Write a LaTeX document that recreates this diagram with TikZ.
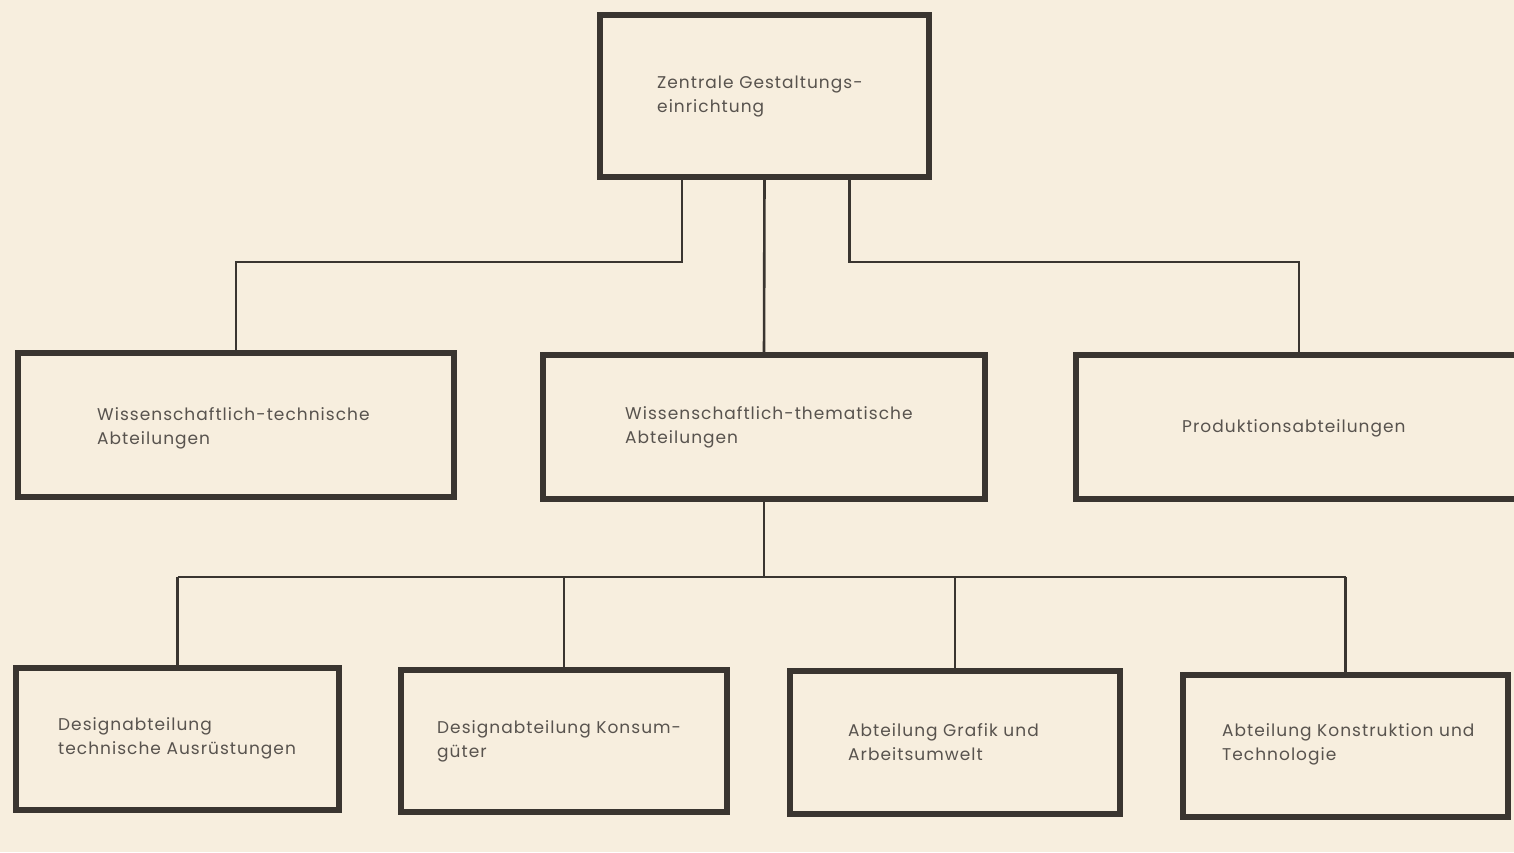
\documentclass[tikz,border=0pt]{standalone}
\usepackage{fontspec}
\setmainfont{Poppins}[LetterSpace=6]
\definecolor{paper}{RGB}{247,238,222}
\definecolor{ink}{RGB}{58,53,48}
\definecolor{txt}{RGB}{88,83,78}
\begin{document}
\begin{tikzpicture}[x=1pt,y=-1pt,
  box/.style={draw=ink,line width=6pt,fill=paper,inner sep=0pt,outer sep=0pt},
  lbl/.style={anchor=west,inner sep=0pt,align=left,text=txt,font=\fontsize{17}{24}\selectfont},
  conn/.style={draw=ink,line width=2.6pt}]
\fill[paper] (0,0) rectangle (1514,852);
\useasboundingbox (0,0) rectangle (1514,852);
% level 0
\node[box,minimum width=329pt,minimum height=162pt] (top) at (764.5,96) {};
% level 1
\node[box,minimum width=436pt,minimum height=144pt] (L) at (236,425) {};
\node[box,minimum width=442pt,minimum height=144pt] (M) at (764,427) {};
\node[box,minimum width=446pt,minimum height=144pt] (R) at (1299,427) {};
% level 2
\node[box,minimum width=323pt,minimum height=142pt] (B1) at (177.5,739) {};
\node[box,minimum width=326pt,minimum height=142pt] (B2) at (564,741) {};
\node[box,minimum width=330pt,minimum height=143pt] (B3) at (955,742.5) {};
\node[box,minimum width=325pt,minimum height=142pt] (B4) at (1345.5,746) {};
% labels
\node[lbl] (topT) at (657,97) {Zentrale Gestaltungs-\\einrichtung};
\node[lbl] (LT) at (97,428) {Wissenschaftlich-technische\\Abteilungen};
\node[lbl] (MT) at (625,427) {Wissenschaftlich-thematische\\Abteilungen};
\node[lbl] (RT) at (1182,428) {Produktionsabteilungen};
\node[lbl] (B1T) at (58,738) {Designabteilung\\technische Ausrüstungen};
\node[lbl] (B2T) at (437,741) {Designabteilung Konsum-\\güter};
\node[lbl] (B3T) at (848,742) {Abteilung Grafik und\\Arbeitsumwelt};
\node[lbl] (B4T) at (1222,744) {Abteilung Konstruktion und\\Technologie};
% connectors level 0 -> 1
\draw[conn] ([xshift=-82.5pt]top.south) -- ++(0,85) -| (L.north);
\draw[conn] (top.south) -- (M.north);
\draw[conn] ([xshift=85pt]top.south) -- ++(0,85) -| (R.north);
% connectors level 1 -> 2
\draw[conn] (M.south) -- ++(0,78) coordinate (hub);
\draw[conn] (hub -| B1.north) -- (hub -| B4.north);
\foreach \b in {B1,B2,B3,B4} \draw[conn] (hub -| \b.north) -- (\b.north);
\end{tikzpicture}
\end{document}
